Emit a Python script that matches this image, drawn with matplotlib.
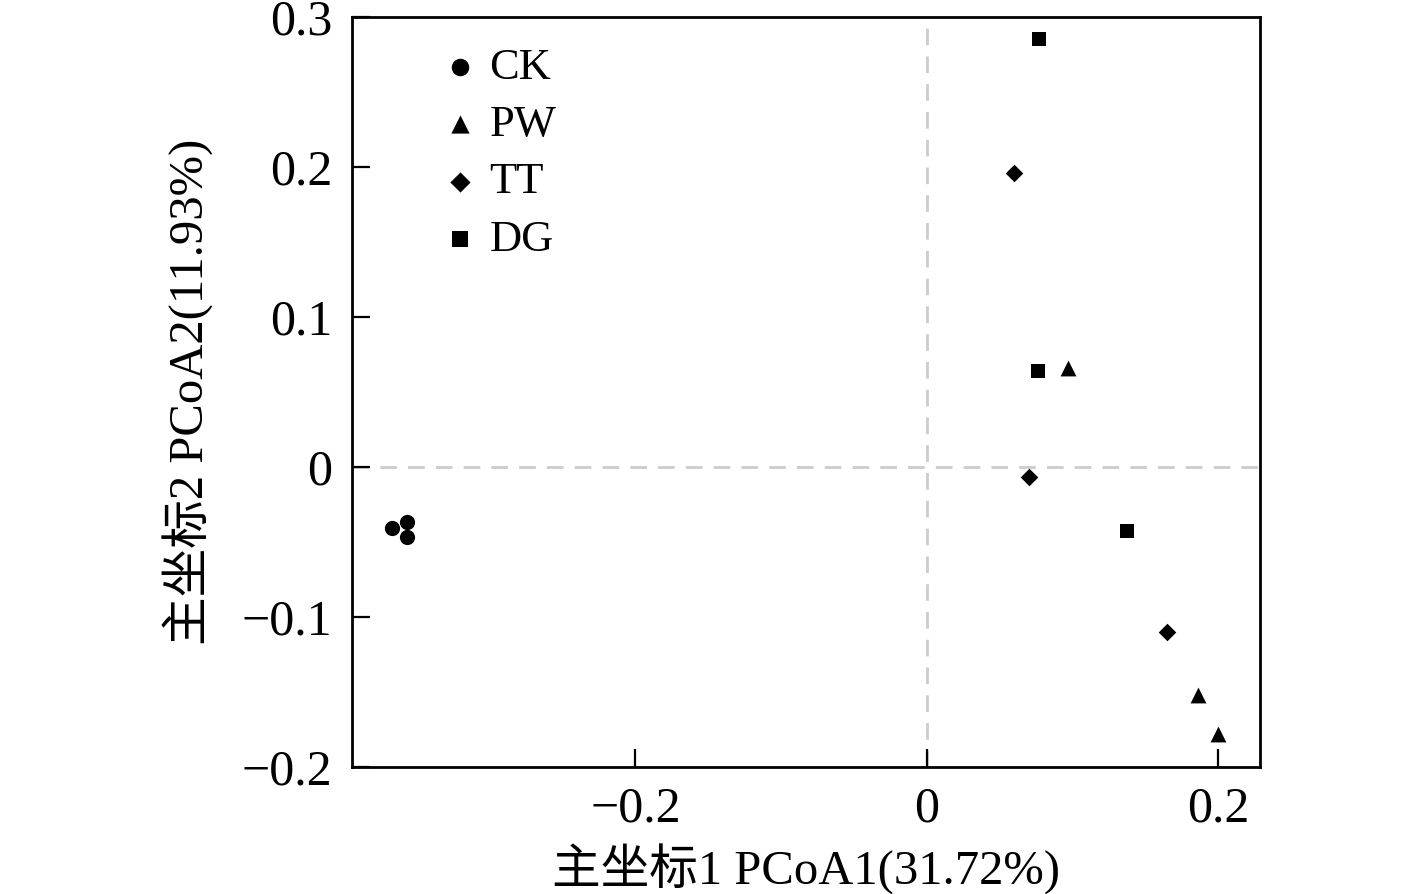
import matplotlib
matplotlib.use("Agg")
import matplotlib.pyplot as plt

plt.rcParams["font.family"] = ["Liberation Serif", "Noto Sans CJK SC"]
plt.rcParams["axes.unicode_minus"] = True

groups = ["CK", "PW", "TT", "DG"]
markers = {"CK": "o", "PW": "^", "TT": "D", "DG": "s"}
sizes = {"CK": 120, "PW": 130, "TT": 80, "DG": 90}

ck_x = [-0.367, -0.357, -0.357]
ck_y = [-0.041, -0.037, -0.047]
pw_x = [0.097, 0.186, 0.200]
pw_y = [0.066, -0.152, -0.178]
tt_x = [0.060, 0.070, 0.165]
tt_y = [0.196, -0.007, -0.110]
dg_x = [0.077, 0.076, 0.137]
dg_y = [0.285, 0.064, -0.043]

data = {
    "CK": (ck_x, ck_y),
    "PW": (pw_x, pw_y),
    "TT": (tt_x, tt_y),
    "DG": (dg_x, dg_y),
}

fig = plt.figure(figsize=(14.17, 8.94), dpi=100)
ax = fig.add_axes([0.2484, 0.1421, 0.6408, 0.8389])

# dashed origin lines
ax.axhline(0, color="#cccccc", lw=2, ls=(0, (6, 4)), zorder=1)
ax.axvline(0, color="#cccccc", lw=2, ls=(0, (6, 4)), zorder=1)

for g in groups:
    x, y = data[g]
    ax.scatter(x, y, marker=markers[g], s=sizes[g], color="black",
               linewidths=0, label=g, zorder=3)

ax.set_xlim(-0.3945, 0.2285)
ax.set_ylim(-0.2, 0.3)
ax.set_xticks([-0.2, 0, 0.2])
ax.set_xticklabels(["\u22120.2", "0", "0.2"])
ax.set_yticks([-0.2, -0.1, 0, 0.1, 0.2, 0.3])
ax.set_yticklabels(["\u22120.2", "\u22120.1", "0", "0.1", "0.2", "0.3"])

ax.tick_params(direction="in", length=13, width=1.6, labelsize=36, pad=14)
for sp in ax.spines.values():
    sp.set_linewidth(2)

ax.set_xlabel("主坐标1 PCoA1(31.72%)", fontsize=35, labelpad=8)
ax.set_ylabel("主坐标2 PCoA2(11.93%)", fontsize=35, labelpad=20)

leg = ax.legend(loc="upper left", bbox_to_anchor=(0.07, 0.995), frameon=False,
                fontsize=32, handlelength=0.8, handletextpad=0.26,
                labelspacing=0.39, borderaxespad=0.2, markerscale=1.15)

fig.savefig("out.png", dpi=100)
